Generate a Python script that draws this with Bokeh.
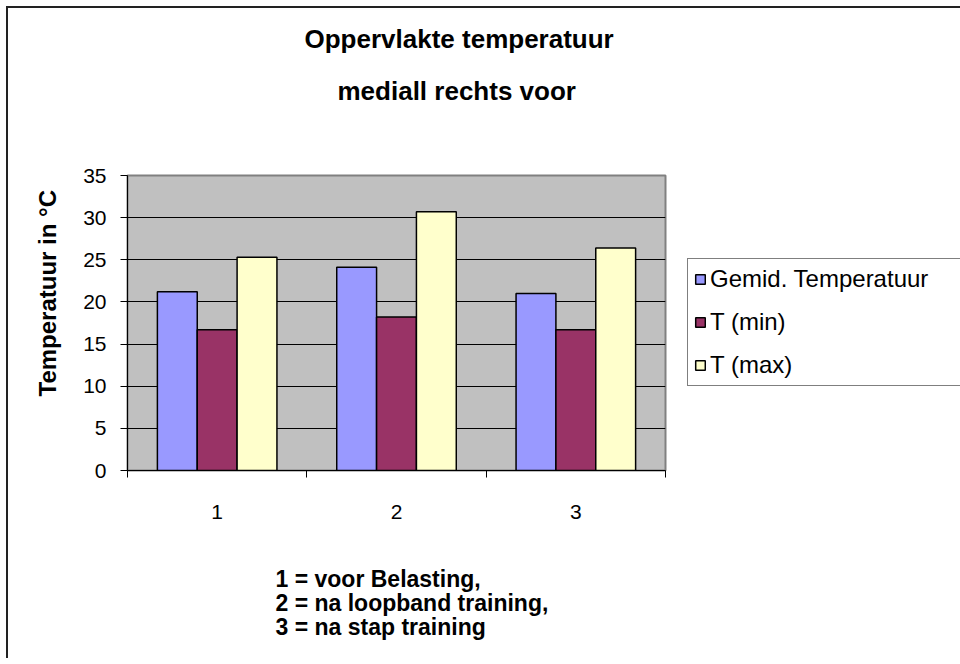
import numpy as np
from bokeh.plotting import figure
from bokeh.models import Range1d, FixedTicker, Legend, LegendItem, Title
from bokeh.embed import file_html
from bokeh.resources import INLINE

# ---- data ----
categories = ["1", "2", "3"]
series_names = ["Gemid. Temperatuur", "T (min)", "T (max)"]
gemid = [21.2, 24.1, 21.0]
t_min = [16.7, 18.2, 16.7]
t_max = [25.3, 30.7, 26.4]
y_ticks = [0, 5, 10, 15, 20, 25, 30, 35]
title_lines = ["Oppervlakte temperatuur", "mediall rechts voor"]
y_title = "Temperatuur in °C"
note_lines = ["1 = voor Belasting,", "2 = na loopband training,", "3 = na stap training"]

colors = ["#9999FF", "#993366", "#FFFFCC"]
FONT = "Liberation Sans"

p = figure(frame_width=538, frame_height=295,
           min_border_left=119, min_border_top=167,
           min_border_right=293, min_border_bottom=186,
           x_range=Range1d(0, len(categories)), y_range=Range1d(y_ticks[0], y_ticks[-1]),
           output_backend="svg", toolbar_location=None)

p.background_fill_color = "#C0C0C0"
p.border_fill_color = "white"
p.outline_line_color = "#808080"
p.outline_line_width = 2
p.xgrid.grid_line_color = None
p.ygrid.grid_line_color = "black"
p.ygrid.grid_line_width = 1

centers = np.arange(len(categories)) + 0.5
bw = 1.0 / 4.5
offsets = [-bw, 0.0, bw]
series = [gemid, t_min, t_max]
renderers = []
for vals, off, col in zip(series, offsets, colors):
    r = p.vbar(x=centers + off, top=vals, width=bw, bottom=0,
               fill_color=col, line_color="black", line_width=1.5)
    renderers.append(r)

# y axis
p.yaxis.ticker = FixedTicker(ticks=y_ticks)
p.yaxis.axis_line_color = "black"
p.yaxis.major_tick_line_color = "black"
p.yaxis.major_tick_out = 7
p.yaxis.major_tick_in = 0
p.yaxis.minor_tick_line_color = None
p.yaxis.major_label_text_font = FONT
p.yaxis.major_label_text_font_size = "21px"
p.yaxis.major_label_text_color = "black"
p.yaxis.major_label_standoff = 14

# x axis: labels at centers, ticks at category boundaries
p.xaxis.ticker = FixedTicker(ticks=list(centers), minor_ticks=list(range(len(categories) + 1)))
p.xaxis.major_label_overrides = {float(c): lab for c, lab in zip(centers, categories)}
p.xaxis.axis_line_color = "black"
p.xaxis.major_tick_out = 0
p.xaxis.major_tick_in = 0
p.xaxis.minor_tick_out = 7
p.xaxis.minor_tick_in = 0
p.xaxis.minor_tick_line_color = "black"
p.xaxis.major_label_text_font = FONT
p.xaxis.major_label_text_font_size = "21px"
p.xaxis.major_label_text_color = "black"
p.xaxis.major_label_standoff = 27

# legend in the right panel
items = [LegendItem(label=n, renderers=[r]) for n, r in zip(series_names, renderers)]
legend = Legend(items=items, location=(22, 84))
legend.label_text_font = FONT
legend.label_text_font_size = "24px"
legend.label_text_color = "black"
legend.glyph_width = 12
legend.glyph_height = 12
legend.label_standoff = 4
legend.spacing = 15
legend.padding = 6
legend.margin = 0
legend.label_width = 262
legend.border_line_color = "black"
legend.border_line_width = 1
legend.background_fill_color = "white"
legend.background_fill_alpha = 1
p.add_layout(legend, "right")

# chart title: two lines (closest to frame added first)
t2 = Title(text=title_lines[1] + "\n\n", align="left", offset=210, standoff=18.5,
           text_font=FONT, text_font_size="26px", text_font_style="bold", text_color="black")
t1 = Title(text=title_lines[0], align="left", offset=177, standoff=22,
           text_font=FONT, text_font_size="26px", text_font_style="bold", text_color="black")
p.add_layout(t2, "above")
p.add_layout(t1, "above")

# y axis title
ty = Title(text=y_title, align="left", offset=74, standoff=39,
           text_font=FONT, text_font_size="24px", text_font_style="bold", text_color="black")
p.add_layout(ty, "left")

# note below x axis
tn = Title(text="\n" + "\n".join(note_lines), align="left", offset=148, standoff=36,
           text_font=FONT, text_font_size="23px", text_font_style="bold", text_color="black",
           text_line_height=0.94)
p.add_layout(tn, "below")

p.styles = {"margin-left": "6px", "margin-top": "6px",
            "border-top": "2px solid #222222", "border-left": "2px solid #222222"}

open("out.html", "w").write(file_html(p, INLINE))
